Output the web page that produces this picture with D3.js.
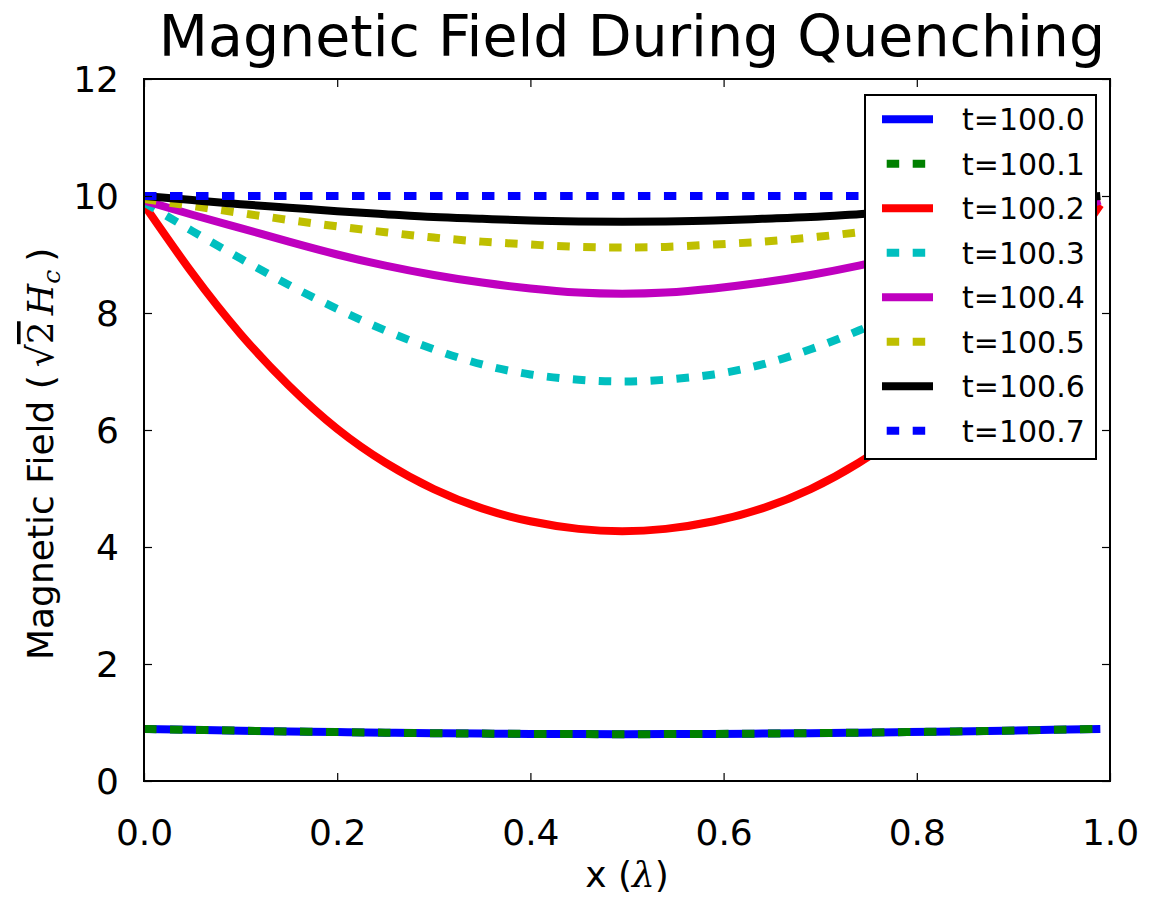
<!DOCTYPE html>
<html>
<head>
<meta charset="utf-8">
<script src="https://cdn.jsdelivr.net/npm/d3@7/dist/d3.min.js"></script>
<style>
  body { margin: 0; background: #fff; }
  svg { font-family: "DejaVu Sans", sans-serif; }
</style>
</head>
<body>
<svg id="chart" width="1149" height="899"></svg>
<script>
// x positions (in units of lambda) where the curves were read
const xs = [0, 0.05, 0.1, 0.15, 0.2, 0.25, 0.3, 0.35, 0.4, 0.45, 0.495,
            0.54, 0.59, 0.64, 0.69, 0.74, 0.79, 0.84, 0.89, 0.94, 0.99];

const h1000 = [0.89, 0.875, 0.86, 0.847, 0.836, 0.826, 0.817, 0.81, 0.805, 0.802, 0.80,
               0.802, 0.805, 0.81, 0.817, 0.826, 0.836, 0.847, 0.86, 0.875, 0.89];
const h1001 = [0.89, 0.875, 0.86, 0.847, 0.836, 0.826, 0.817, 0.81, 0.805, 0.802, 0.80,
               0.802, 0.805, 0.81, 0.817, 0.826, 0.836, 0.847, 0.86, 0.875, 0.89];
const h1002 = [9.85, 8.68, 7.64, 6.76, 6.02, 5.44, 4.99, 4.66, 4.44, 4.31, 4.27,
               4.31, 4.44, 4.66, 4.99, 5.44, 6.02, 6.76, 7.64, 8.68, 9.85];
const h1003 = [9.89, 9.40, 8.93, 8.48, 8.07, 7.70, 7.38, 7.12, 6.95, 6.86, 6.83,
               6.86, 6.95, 7.12, 7.38, 7.70, 8.07, 8.48, 8.93, 9.40, 9.89];
const h1004 = [9.92, 9.68, 9.45, 9.22, 9.00, 8.81, 8.65, 8.52, 8.42, 8.35, 8.33,
               8.35, 8.42, 8.52, 8.65, 8.81, 9.00, 9.22, 9.45, 9.68, 9.92];
const h1005 = [9.95, 9.83, 9.71, 9.59, 9.48, 9.38, 9.29, 9.22, 9.17, 9.13, 9.12,
               9.13, 9.17, 9.22, 9.29, 9.38, 9.48, 9.59, 9.71, 9.83, 9.95];
const h1006 = [10.0, 9.93, 9.86, 9.80, 9.74, 9.69, 9.64, 9.61, 9.58, 9.565, 9.56,
               9.565, 9.58, 9.61, 9.64, 9.69, 9.74, 9.80, 9.86, 9.93, 10.0];
const h1007 = [10.0, 10.0, 10.0, 10.0, 10.0, 10.0, 10.0, 10.0, 10.0, 10.0, 10.0,
               10.0, 10.0, 10.0, 10.0, 10.0, 10.0, 10.0, 10.0, 10.0, 10.0];

const labels = ['t=100.0', 't=100.1', 't=100.2', 't=100.3', 't=100.4', 't=100.5', 't=100.6', 't=100.7'];
const colors = ['#0000ff', '#008000', '#ff0000', '#00bfbf', '#bf00bf', '#bfbf00', '#000000', '#0000ff'];
const dotted = [false, true, false, true, false, true, false, true];
const values = [h1000, h1001, h1002, h1003, h1004, h1005, h1006, h1007];

const xTicks = [0, 0.2, 0.4, 0.6, 0.8, 1.0];
const yTicks = [0, 2, 4, 6, 8, 10, 12];

const svg = d3.select('#chart');
const margin = { left: 144, right: 1110, top: 79, bottom: 781 };

const x = d3.scaleLinear().domain([0, 1]).range([margin.left, margin.right]);
const y = d3.scaleLinear().domain([0, 12]).range([margin.bottom, margin.top]);

const lw = 8;
const dash = '12.5,13.5';

svg.append('defs').append('clipPath').attr('id', 'plotclip')
  .append('rect')
  .attr('x', margin.left).attr('y', margin.top)
  .attr('width', margin.right - margin.left).attr('height', margin.bottom - margin.top);

// curves
const line = d3.line()
  .x(d => x(d[0]))
  .y(d => y(d[1]))
  .curve(d3.curveNatural);

const g = svg.append('g').attr('clip-path', 'url(#plotclip)');
values.forEach((vals, i) => {
  g.append('path')
    .datum(xs.map((xv, j) => [xv, vals[j]]))
    .attr('d', line)
    .attr('fill', 'none')
    .attr('stroke', colors[i])
    .attr('stroke-width', lw)
    .attr('stroke-dasharray', dotted[i] ? dash : null)
    .attr('stroke-linecap', 'butt')
    .attr('stroke-linejoin', 'round');
});

// axes, ticks point inwards on all four sides
const fmtX = d3.format('.1f');
const axB = svg.append('g').attr('transform', `translate(0,${margin.bottom})`)
  .call(d3.axisBottom(x).tickValues(xTicks).tickSizeInner(-8).tickSizeOuter(0).tickFormat(fmtX));
const axT = svg.append('g').attr('transform', `translate(0,${margin.top})`)
  .call(d3.axisTop(x).tickValues(xTicks).tickSizeInner(-8).tickSizeOuter(0).tickFormat(''));
const axL = svg.append('g').attr('transform', `translate(${margin.left},0)`)
  .call(d3.axisLeft(y).tickValues(yTicks).tickSizeInner(-8).tickSizeOuter(0).tickFormat(d3.format('d')));
const axR = svg.append('g').attr('transform', `translate(${margin.right},0)`)
  .call(d3.axisRight(y).tickValues(yTicks).tickSizeInner(-8).tickSizeOuter(0).tickFormat(''));

[axB, axT, axL, axR].forEach(a => {
  a.select('.domain').remove();
  a.selectAll('.tick line').attr('stroke', '#000').attr('stroke-width', 1.2);
});
axB.selectAll('.tick text')
  .attr('y', 64).attr('dy', null)
  .attr('font-size', 36).attr('font-family', '"DejaVu Sans", sans-serif').attr('fill', '#000');
axL.selectAll('.tick text')
  .attr('x', -25).attr('dy', '0.36em')
  .attr('font-size', 36).attr('font-family', '"DejaVu Sans", sans-serif').attr('fill', '#000');

// frame
svg.append('rect')
  .attr('x', margin.left).attr('y', margin.top)
  .attr('width', margin.right - margin.left).attr('height', margin.bottom - margin.top)
  .attr('fill', 'none').attr('stroke', '#000').attr('stroke-width', 2);

// title
svg.append('text')
  .attr('x', 632).attr('y', 56)
  .attr('text-anchor', 'middle')
  .attr('font-size', 57)
  .text('Magnetic Field During Quenching');

// x label
const xl = svg.append('text')
  .attr('x', 627).attr('y', 887)
  .attr('text-anchor', 'middle')
  .attr('font-size', 36);
xl.append('tspan').text('x (');
xl.append('tspan').attr('font-family', '"DejaVu Serif", serif').attr('font-style', 'italic').text('λ');
xl.append('tspan').text(')');

// y label
const yl = svg.append('text')
  .attr('transform', 'translate(53,660) rotate(-90)')
  .attr('x', 0).attr('y', 0)
  .attr('text-anchor', 'start')
  .attr('font-size', 36);
yl.append('tspan').text('Magnetic Field (');
yl.append('tspan').attr('dx', 8).attr('font-family', '"DejaVu Serif", serif').text('√');
yl.append('tspan').attr('font-family', '"DejaVu Serif", serif')
  .style('text-decoration', 'overline').text('2');
yl.append('tspan').attr('dx', 6).attr('font-family', '"DejaVu Serif", serif').attr('font-style', 'italic').text('H');
yl.append('tspan').attr('font-family', '"DejaVu Serif", serif').attr('font-style', 'italic')
  .attr('font-size', 25).attr('dy', 7).text('c');
yl.append('tspan').attr('dx', 8).attr('dy', -7).text(')');

// legend
const leg = svg.append('g');
leg.append('rect')
  .attr('x', 865).attr('y', 95).attr('width', 231).attr('height', 364)
  .attr('fill', '#fff').attr('stroke', '#000').attr('stroke-width', 2);
labels.forEach((lab, i) => {
  const cy = 119.3 + i * 44.5;
  leg.append('line')
    .attr('x1', 882).attr('x2', 933).attr('y1', cy).attr('y2', cy)
    .attr('stroke', colors[i]).attr('stroke-width', lw)
    .attr('stroke-dasharray', dotted[i] ? dash : null)
    .attr('stroke-dashoffset', dotted[i] ? -4.7 : null);
  leg.append('text')
    .attr('x', 962).attr('y', cy + 10.8)
    .attr('font-size', 30)
    .text(lab);
});
</script>
</body>
</html>
